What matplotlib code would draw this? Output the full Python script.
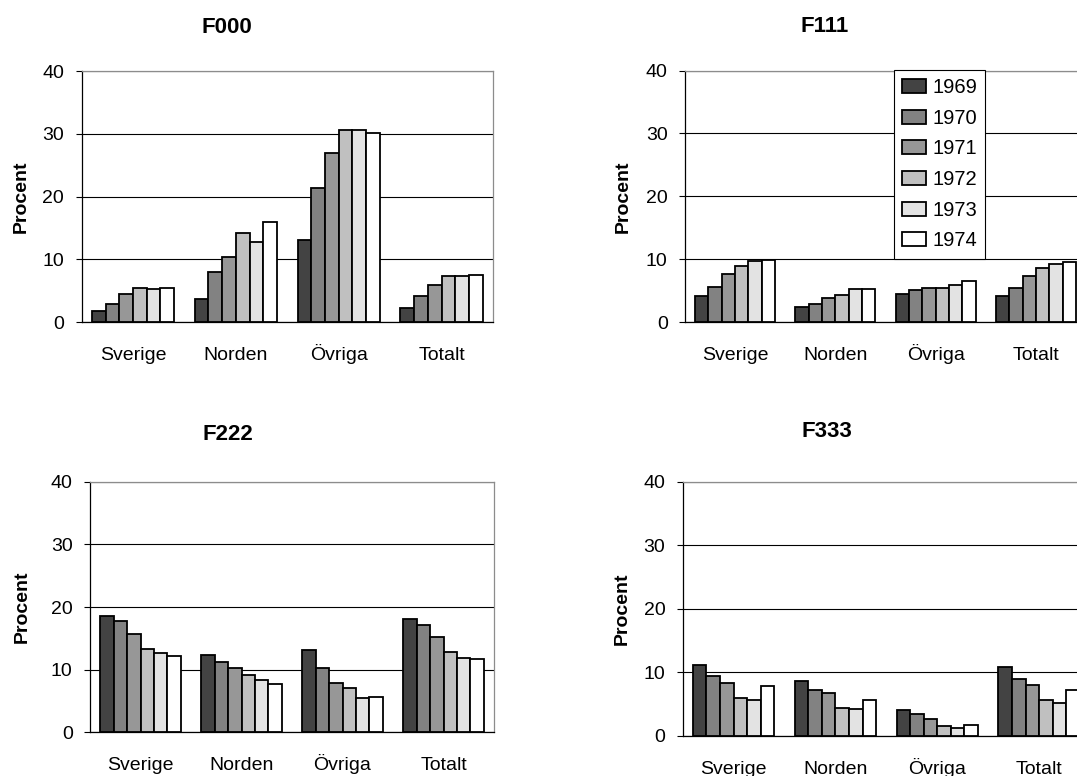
import matplotlib
matplotlib.use("Agg")
import matplotlib.pyplot as plt
from matplotlib.patches import Rectangle
from matplotlib.legend_handler import HandlerPatch
import numpy as np

plt.rcParams['font.family'] = ['Liberation Sans', 'DejaVu Sans']

categories = ["Sverige", "Norden", "Övriga", "Totalt"]
years = ["1969", "1970", "1971", "1972", "1973", "1974"]
yticks = [0, 10, 20, 30, 40]

# values per year (rows) across categories (columns)
f000 = [
    [1.7, 3.7, 13.0, 2.3],
    [2.9, 7.9, 21.3, 4.2],
    [4.4, 10.3, 27.0, 5.9],
    [5.5, 14.2, 30.6, 7.4],
    [5.3, 12.7, 30.6, 7.4],
    [5.4, 16.0, 30.2, 7.5],
]
f111 = [
    [4.2, 2.4, 4.5, 4.1],
    [5.6, 2.9, 5.2, 5.5],
    [7.7, 3.9, 5.4, 7.4],
    [8.9, 4.4, 5.5, 8.6],
    [9.7, 5.3, 5.9, 9.3],
    [9.9, 5.3, 6.5, 9.6],
]
f222 = [
    [18.6, 12.3, 13.1, 18.1],
    [17.8, 11.2, 10.2, 17.2],
    [15.7, 10.3, 7.9, 15.2],
    [13.3, 9.2, 7.0, 12.8],
    [12.6, 8.4, 5.4, 11.9],
    [12.2, 7.7, 5.6, 11.7],
]
f333 = [
    [11.2, 8.7, 4.1, 10.8],
    [9.4, 7.2, 3.5, 9.0],
    [8.4, 6.7, 2.7, 8.0],
    [5.9, 4.4, 1.6, 5.6],
    [5.6, 4.2, 1.3, 5.2],
    [7.8, 5.7, 1.7, 7.3],
]

colors = ["#434343", "#828282", "#979797", "#c0c0c0", "#e3e3e3", "#ffffff"]

W, H = 1077, 776
fig = plt.figure(figsize=(W / 100, H / 100), dpi=100)


def ax_at(l, r, t, b):
    return fig.add_axes([l / W, 1 - b / H, (r - l) / W, (b - t) / H])


panels = [
    ("F000", f000, (81.5, 493, 71.2, 322), (227, 27.6), 21),
    ("F111", f111, (685, 1086, 70.5, 322.3), (825, 26.7), 623),
    ("F222", f222, (90, 494, 481.7, 732.3), (227.6, 434), 22),
    ("F333", f333, (682.7, 1090, 481.7, 736), (826.7, 431.7), 622),
]

x = np.arange(len(categories))
bw = 0.8 / len(years)

axes = []
for title, data, (l, r, t, b), (tx, ty), ylx in panels:
    ax = ax_at(l, r, t, b)
    axes.append(ax)
    for i, yr in enumerate(years):
        ax.bar(x - 0.4 + bw * (i + 0.5), data[i], bw, color=colors[i],
               edgecolor="black", linewidth=1.3, label=yr, zorder=3)
    ax.set_xlim(-0.5, len(categories) - 0.5)
    ax.set_ylim(0, 40)
    ax.set_yticks(yticks)
    ax.set_xticks(x, categories)
    ax.grid(axis="y", color="black", linewidth=0.8, zorder=1)
    ax.set_axisbelow(True)
    ax.tick_params(axis="x", length=0, pad=27.5, labelsize=14)
    for lbl in ax.get_xticklabels():
        lbl.set_verticalalignment("baseline")
    ax.tick_params(axis="y", length=4.5, width=0.8, pad=8, labelsize=14)
    for s in ["left", "bottom"]:
        ax.spines[s].set_color("black")
        ax.spines[s].set_linewidth(0.9)
    for s in ["top", "right"]:
        ax.spines[s].set_color("#8c8c8c")
        ax.spines[s].set_linewidth(0.9)
    fig.text(tx / W, 1 - ty / H, title, ha="center", va="center",
             fontsize=16, fontweight="bold")
    fig.text(ylx / W, 1 - ((t + b) / 2) / H, "Procent", rotation=90,
             ha="center", va="center", fontsize=14, fontweight="bold")


def square(legend, orig_handle, xdescent, ydescent, width, height, fontsize):
    s = 0.62 * fontsize
    return Rectangle((width - s - xdescent, (height - s) / 2 - ydescent), s, s)


handles, labels = axes[1].get_legend_handles_labels()
leg = axes[1].legend(handles, labels, loc="upper left",
                     bbox_to_anchor=(894 / W, 1 - 70 / H),
                     bbox_transform=fig.transFigure,
                     fontsize=14.5, frameon=True, fancybox=False,
                     edgecolor="black", framealpha=1, borderpad=0.4,
                     labelspacing=0.58, handlelength=1.2, handletextpad=0.3,
                     borderaxespad=0,
                     handler_map={Rectangle: HandlerPatch(patch_func=square)})
leg.get_frame().set_linewidth(0.8)
leg.set_zorder(5)

fig.savefig("out.png", dpi=100)
